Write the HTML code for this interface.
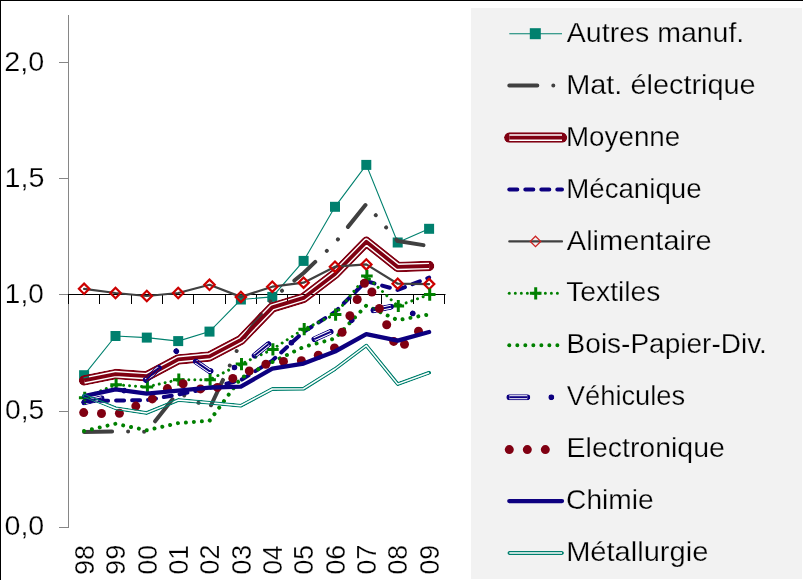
<!DOCTYPE html>
<html><head><meta charset="utf-8"><style>
html,body{margin:0;padding:0;background:#fff;}
body{width:803px;height:580px;overflow:hidden;position:relative;}
svg{display:block;position:absolute;left:0;top:0;will-change:transform;}
text{font-family:"Liberation Sans", sans-serif;font-size:27.5px;fill:#000;}
text{stroke:#fff;stroke-width:0.25px;}
.lg text{stroke:#f2f2f2;}
</style></head><body>
<svg width="803" height="580" viewBox="0 0 803 580">
<rect x="0" y="0" width="803" height="580" fill="#fff"/>
<rect x="471" y="8" width="331" height="571" fill="#f2f2f2"/>
<polyline points="509.3,33.7 562.0,33.7" fill="none" stroke="#00806e" stroke-width="1.1"/>
<rect x="529.8" y="28.2" width="11" height="11" fill="#00806e"/>
<polyline points="509.3,85.6 562.0,85.6" fill="none" stroke="#404040" stroke-width="4" stroke-linecap="round" stroke-linejoin="round" stroke-dasharray="28 16 0.01 16 0.01 16"/>
<polyline points="509.3,137.6 562.0,137.6" fill="none" stroke="#fff" stroke-width="9.5" stroke-linecap="butt"/>
<mask id="m4" maskUnits="userSpaceOnUse" x="0" y="0" width="803" height="580"><polyline points="509.3,137.6 562.0,137.6" fill="none" stroke="#fff" stroke-width="10.5" stroke-linecap="round" stroke-linejoin="round" stroke-miterlimit="10"/><polyline points="509.3,137.6 562.0,137.6" fill="none" stroke="#000" stroke-width="6.6" stroke-linecap="butt" stroke-linejoin="round" stroke-miterlimit="10"/><polyline points="509.3,137.6 562.0,137.6" fill="none" stroke="#fff" stroke-width="3.8" stroke-linecap="butt" stroke-linejoin="round" stroke-miterlimit="10"/></mask>
<polyline points="509.3,137.6 562.0,137.6" fill="none" stroke="#800012" stroke-width="10.5" stroke-linecap="round" stroke-linejoin="round" stroke-miterlimit="10" mask="url(#m4)"/>
<polyline points="509.3,189.5 562.0,189.5" fill="none" stroke="#0d0080" stroke-width="4" stroke-linecap="round" stroke-linejoin="round" stroke-dasharray="8 8"/>
<polyline points="509.3,241.4 562.0,241.4" fill="none" stroke="#404040" stroke-width="2.2" stroke-linejoin="round" stroke-linecap="round"/>
<path d="M535.5 236.2L540.7 241.4L535.5 246.6L530.3 241.4Z" fill="none" stroke="#cc2222" stroke-width="1.3"/>
<polyline points="509.3,293.3 562.0,293.3" fill="none" stroke="#008000" stroke-width="3" stroke-linecap="round" stroke-linejoin="round" stroke-dasharray="0.01 6"/>
<path d="M529.9 293.3H541.5M535.7 287.2V299.4" stroke="#008000" stroke-width="3" fill="none"/>
<polyline points="509.3,345.3 562.0,345.3" fill="none" stroke="#008000" stroke-width="4" stroke-linecap="round" stroke-linejoin="round" stroke-dasharray="0.01 8"/>
<polyline points="509.3,397.2 562.0,397.2" fill="none" stroke="#fff" stroke-width="5" stroke-linecap="butt" stroke-dasharray="18 48"/>
<mask id="m5" maskUnits="userSpaceOnUse" x="0" y="0" width="803" height="580"><polyline points="509.3,397.2 562.0,397.2" fill="none" stroke="#fff" stroke-width="6" stroke-linecap="round" stroke-linejoin="round" stroke-miterlimit="10" stroke-dasharray="18 24 0.01 24"/><polyline points="509.3,397.2 562.0,397.2" fill="none" stroke="#000" stroke-width="4" stroke-linecap="butt" stroke-linejoin="round" stroke-miterlimit="10" stroke-dasharray="18 48"/><polyline points="509.3,397.2 562.0,397.2" fill="none" stroke="#fff" stroke-width="2" stroke-linecap="butt" stroke-linejoin="round" stroke-miterlimit="10" stroke-dasharray="18 48"/></mask>
<polyline points="509.3,397.2 562.0,397.2" fill="none" stroke="#0d0080" stroke-width="6" stroke-linecap="round" stroke-linejoin="round" stroke-miterlimit="10" stroke-dasharray="18 24 0.01 24" mask="url(#m5)"/>
<polyline points="509.3,449.6 562.0,449.6" fill="none" stroke="#800012" stroke-width="9" stroke-linecap="round" stroke-linejoin="round" stroke-dasharray="0.01 18"/>
<polyline points="509.3,501.1 562.0,501.1" fill="none" stroke="#0d0080" stroke-width="4.3" stroke-linecap="round" stroke-linejoin="round"/>
<polyline points="509.3,553.0 562.0,553.0" fill="none" stroke="#fff" stroke-width="3" stroke-linecap="butt"/>
<mask id="m6" maskUnits="userSpaceOnUse" x="0" y="0" width="803" height="580"><polyline points="509.3,553.0 562.0,553.0" fill="none" stroke="#fff" stroke-width="4" stroke-linecap="round" stroke-linejoin="round" stroke-miterlimit="10"/><polyline points="509.3,553.0 562.0,553.0" fill="none" stroke="#000" stroke-width="1.5" stroke-linecap="butt" stroke-linejoin="round" stroke-miterlimit="10"/></mask>
<polyline points="509.3,553.0 562.0,553.0" fill="none" stroke="#00806e" stroke-width="4" stroke-linecap="round" stroke-linejoin="round" stroke-miterlimit="10" mask="url(#m6)"/>
<line x1="68.5" y1="15" x2="68.5" y2="528" stroke="#868686" stroke-width="1"/>
<line x1="59" y1="62.5" x2="68.5" y2="62.5" stroke="#868686" stroke-width="1"/>
<line x1="59" y1="178.5" x2="68.5" y2="178.5" stroke="#868686" stroke-width="1"/>
<line x1="59" y1="294.5" x2="68.5" y2="294.5" stroke="#868686" stroke-width="1"/>
<line x1="59" y1="411.5" x2="68.5" y2="411.5" stroke="#868686" stroke-width="1"/>
<line x1="59" y1="527.5" x2="68.5" y2="527.5" stroke="#868686" stroke-width="1"/>
<line x1="68" y1="294.5" x2="445.5" y2="294.5" stroke="#000" stroke-width="1"/>
<line x1="68.5" y1="294.5" x2="68.5" y2="304.0" stroke="#000" stroke-width="1"/>
<line x1="99.5" y1="294.5" x2="99.5" y2="304.0" stroke="#000" stroke-width="1"/>
<line x1="131.5" y1="294.5" x2="131.5" y2="304.0" stroke="#000" stroke-width="1"/>
<line x1="162.5" y1="294.5" x2="162.5" y2="304.0" stroke="#000" stroke-width="1"/>
<line x1="193.5" y1="294.5" x2="193.5" y2="304.0" stroke="#000" stroke-width="1"/>
<line x1="225.5" y1="294.5" x2="225.5" y2="304.0" stroke="#000" stroke-width="1"/>
<line x1="256.5" y1="294.5" x2="256.5" y2="304.0" stroke="#000" stroke-width="1"/>
<line x1="287.5" y1="294.5" x2="287.5" y2="304.0" stroke="#000" stroke-width="1"/>
<line x1="319.5" y1="294.5" x2="319.5" y2="304.0" stroke="#000" stroke-width="1"/>
<line x1="350.5" y1="294.5" x2="350.5" y2="304.0" stroke="#000" stroke-width="1"/>
<line x1="381.5" y1="294.5" x2="381.5" y2="304.0" stroke="#000" stroke-width="1"/>
<line x1="413.5" y1="294.5" x2="413.5" y2="304.0" stroke="#000" stroke-width="1"/>
<line x1="444.5" y1="294.5" x2="444.5" y2="304.0" stroke="#000" stroke-width="1"/>
<polyline points="84.1,375.2 115.5,336.0 146.8,337.6 178.2,341.1 209.5,331.6 240.9,299.5 272.3,296.9 303.6,260.9 335.0,206.8 366.3,164.9 397.7,242.5 429.1,228.8" fill="none" stroke="#00806e" stroke-width="1.1"/>
<rect x="79.1" y="370.2" width="10" height="10" fill="#00806e"/>
<rect x="110.5" y="331.0" width="10" height="10" fill="#00806e"/>
<rect x="141.8" y="332.6" width="10" height="10" fill="#00806e"/>
<rect x="173.2" y="336.1" width="10" height="10" fill="#00806e"/>
<rect x="204.5" y="326.6" width="10" height="10" fill="#00806e"/>
<rect x="235.9" y="294.5" width="10" height="10" fill="#00806e"/>
<rect x="267.3" y="291.9" width="10" height="10" fill="#00806e"/>
<rect x="298.6" y="255.9" width="10" height="10" fill="#00806e"/>
<rect x="330.0" y="201.8" width="10" height="10" fill="#00806e"/>
<rect x="361.3" y="159.9" width="10" height="10" fill="#00806e"/>
<rect x="392.7" y="237.5" width="10" height="10" fill="#00806e"/>
<rect x="424.1" y="223.8" width="10" height="10" fill="#00806e"/>
<polyline points="84.1,431.9 115.5,431.5 146.8,431.7 178.2,392.2 209.5,408.5 240.9,342.0 272.3,298.6 303.6,273.0 335.0,243.0 366.3,204.0 397.7,241.1 429.1,246.0" fill="none" stroke="#404040" stroke-width="4" stroke-linecap="round" stroke-linejoin="round" stroke-dasharray="28 16 0.01 16 0.01 16"/>
<mask id="m1" maskUnits="userSpaceOnUse" x="0" y="0" width="803" height="580"><polyline points="84.1,380.4 115.5,374.1 146.8,376.2 178.2,359.4 209.5,356.4 240.9,339.9 272.3,307.4 303.6,297.9 335.0,273.9 366.3,241.8 397.7,266.9 429.1,266.0" fill="none" stroke="#fff" stroke-width="10.5" stroke-linecap="round" stroke-linejoin="round" stroke-miterlimit="10"/><polyline points="84.1,380.4 115.5,374.1 146.8,376.2 178.2,359.4 209.5,356.4 240.9,339.9 272.3,307.4 303.6,297.9 335.0,273.9 366.3,241.8 397.7,266.9 429.1,266.0" fill="none" stroke="#000" stroke-width="6.6" stroke-linecap="butt" stroke-linejoin="round" stroke-miterlimit="10"/><polyline points="84.1,380.4 115.5,374.1 146.8,376.2 178.2,359.4 209.5,356.4 240.9,339.9 272.3,307.4 303.6,297.9 335.0,273.9 366.3,241.8 397.7,266.9 429.1,266.0" fill="none" stroke="#fff" stroke-width="3.8" stroke-linecap="butt" stroke-linejoin="round" stroke-miterlimit="10"/></mask>
<polyline points="84.1,380.4 115.5,374.1 146.8,376.2 178.2,359.4 209.5,356.4 240.9,339.9 272.3,307.4 303.6,297.9 335.0,273.9 366.3,241.8 397.7,266.9 429.1,266.0" fill="none" stroke="#800012" stroke-width="10.5" stroke-linecap="round" stroke-linejoin="round" stroke-miterlimit="10" mask="url(#m1)"/>
<polyline points="84.1,401.0 115.5,400.6 146.8,400.1 178.2,394.5 209.5,388.0 240.9,380.1 272.3,360.6 303.6,331.8 335.0,312.0 366.3,281.1 397.7,290.0 429.1,277.6" fill="none" stroke="#0d0080" stroke-width="4" stroke-linecap="round" stroke-linejoin="round" stroke-dasharray="8 8"/>
<polyline points="84.1,288.8 115.5,293.0 146.8,296.0 178.2,293.0 209.5,284.8 240.9,296.9 272.3,286.7 303.6,282.7 335.0,266.7 366.3,264.4 397.7,283.7 429.1,284.1" fill="none" stroke="#404040" stroke-width="2.2" stroke-linejoin="round" stroke-linecap="round"/>
<path d="M84.1 283.6L89.3 288.8L84.1 294.0L78.9 288.8Z" fill="none" stroke="#cc0000" stroke-width="2.2"/>
<path d="M115.5 287.8L120.7 293.0L115.5 298.2L110.3 293.0Z" fill="none" stroke="#cc0000" stroke-width="2.2"/>
<path d="M146.8 290.8L152.0 296.0L146.8 301.2L141.6 296.0Z" fill="none" stroke="#cc0000" stroke-width="2.2"/>
<path d="M178.2 287.8L183.4 293.0L178.2 298.2L173.0 293.0Z" fill="none" stroke="#cc0000" stroke-width="2.2"/>
<path d="M209.5 279.6L214.7 284.8L209.5 290.0L204.3 284.8Z" fill="none" stroke="#cc0000" stroke-width="2.2"/>
<path d="M240.9 291.7L246.1 296.9L240.9 302.1L235.7 296.9Z" fill="none" stroke="#cc0000" stroke-width="2.2"/>
<path d="M272.3 281.5L277.5 286.7L272.3 291.9L267.1 286.7Z" fill="none" stroke="#cc0000" stroke-width="2.2"/>
<path d="M303.6 277.5L308.8 282.7L303.6 287.9L298.4 282.7Z" fill="none" stroke="#cc0000" stroke-width="2.2"/>
<path d="M335.0 261.5L340.2 266.7L335.0 271.9L329.8 266.7Z" fill="none" stroke="#cc0000" stroke-width="2.2"/>
<path d="M366.3 259.2L371.5 264.4L366.3 269.6L361.1 264.4Z" fill="none" stroke="#cc0000" stroke-width="2.2"/>
<path d="M397.7 278.5L402.9 283.7L397.7 288.9L392.5 283.7Z" fill="none" stroke="#cc0000" stroke-width="2.2"/>
<path d="M429.1 278.9L434.3 284.1L429.1 289.3L423.9 284.1Z" fill="none" stroke="#cc0000" stroke-width="2.2"/>
<polyline points="84.1,397.8 115.5,384.8 146.8,386.9 178.2,379.7 209.5,379.7 240.9,364.1 272.3,349.4 303.6,329.2 335.0,314.6 366.3,276.0 397.7,306.0 429.1,294.6" fill="none" stroke="#008000" stroke-width="3" stroke-linecap="round" stroke-linejoin="round" stroke-dasharray="0.01 6"/>
<path d="M78.9 397.8H90.5M84.7 391.7V403.9" stroke="#008000" stroke-width="3" fill="none"/>
<path d="M110.3 384.8H121.9M116.1 378.7V390.9" stroke="#008000" stroke-width="3" fill="none"/>
<path d="M141.6 386.9H153.2M147.4 380.8V393.0" stroke="#008000" stroke-width="3" fill="none"/>
<path d="M173.0 379.7H184.6M178.8 373.6V385.8" stroke="#008000" stroke-width="3" fill="none"/>
<path d="M204.3 379.7H215.9M210.1 373.6V385.8" stroke="#008000" stroke-width="3" fill="none"/>
<path d="M235.7 364.1H247.3M241.5 358.0V370.2" stroke="#008000" stroke-width="3" fill="none"/>
<path d="M267.1 349.4H278.7M272.9 343.3V355.5" stroke="#008000" stroke-width="3" fill="none"/>
<path d="M298.4 329.2H310.0M304.2 323.1V335.3" stroke="#008000" stroke-width="3" fill="none"/>
<path d="M329.8 314.6H341.4M335.6 308.5V320.7" stroke="#008000" stroke-width="3" fill="none"/>
<path d="M361.1 276.0H372.7M366.9 269.9V282.1" stroke="#008000" stroke-width="3" fill="none"/>
<path d="M392.5 306.0H404.1M398.3 299.9V312.1" stroke="#008000" stroke-width="3" fill="none"/>
<path d="M423.9 294.6H435.5M429.7 288.5V300.7" stroke="#008000" stroke-width="3" fill="none"/>
<polyline points="84.1,431.0 115.5,423.8 146.8,430.3 178.2,423.1 209.5,420.8 240.9,378.0 272.3,362.0 303.6,346.9 335.0,338.5 366.3,305.5 397.7,320.2 429.1,314.4" fill="none" stroke="#008000" stroke-width="4" stroke-linecap="round" stroke-linejoin="round" stroke-dasharray="0.01 8"/>
<mask id="m2" maskUnits="userSpaceOnUse" x="0" y="0" width="803" height="580"><polyline points="84.1,402.4 115.5,395.0 146.8,379.4 178.2,349.4 209.5,371.1 240.9,366.6 272.3,341.1 303.6,343.9 335.0,329.9 366.3,311.8 397.7,305.3 429.1,322.3" fill="none" stroke="#fff" stroke-width="6" stroke-linecap="round" stroke-linejoin="round" stroke-miterlimit="10" stroke-dasharray="18 24 0.01 24"/><polyline points="84.1,402.4 115.5,395.0 146.8,379.4 178.2,349.4 209.5,371.1 240.9,366.6 272.3,341.1 303.6,343.9 335.0,329.9 366.3,311.8 397.7,305.3 429.1,322.3" fill="none" stroke="#000" stroke-width="4" stroke-linecap="butt" stroke-linejoin="round" stroke-miterlimit="10" stroke-dasharray="18 48"/><polyline points="84.1,402.4 115.5,395.0 146.8,379.4 178.2,349.4 209.5,371.1 240.9,366.6 272.3,341.1 303.6,343.9 335.0,329.9 366.3,311.8 397.7,305.3 429.1,322.3" fill="none" stroke="#fff" stroke-width="2" stroke-linecap="butt" stroke-linejoin="round" stroke-miterlimit="10" stroke-dasharray="18 48"/></mask>
<polyline points="84.1,402.4 115.5,395.0 146.8,379.4 178.2,349.4 209.5,371.1 240.9,366.6 272.3,341.1 303.6,343.9 335.0,329.9 366.3,311.8 397.7,305.3 429.1,322.3" fill="none" stroke="#0d0080" stroke-width="6" stroke-linecap="round" stroke-linejoin="round" stroke-miterlimit="10" stroke-dasharray="18 24 0.01 24" mask="url(#m2)"/>
<g fill="#800012"><circle cx="83.7" cy="412.6" r="4.5"/><circle cx="101.5" cy="413.5" r="4.5"/><circle cx="119.4" cy="413.2" r="4.5"/><circle cx="135.8" cy="406.1" r="4.5"/><circle cx="152.3" cy="398.9" r="4.5"/><circle cx="167.4" cy="388.6" r="4.5"/><circle cx="183.1" cy="383.8" r="4.5"/><circle cx="200.5" cy="388.9" r="4.5"/><circle cx="217.4" cy="387.4" r="4.5"/><circle cx="232.8" cy="378.4" r="4.5"/><circle cx="249.3" cy="370.9" r="4.5"/><circle cx="265.9" cy="364.2" r="4.5"/><circle cx="283.5" cy="361.4" r="4.5"/><circle cx="301.4" cy="360.7" r="4.5"/><circle cx="318.3" cy="355.2" r="4.5"/><circle cx="334.5" cy="347.9" r="4.5"/><circle cx="342.1" cy="332.2" r="4.5"/><circle cx="349.9" cy="315.8" r="4.5"/><circle cx="357.2" cy="299.5" r="4.5"/><circle cx="364.5" cy="283.2" r="4.5"/><circle cx="371.9" cy="292.0" r="4.5"/><circle cx="379.4" cy="308.5" r="4.5"/><circle cx="386.7" cy="324.7" r="4.5"/><circle cx="393.7" cy="341.4" r="4.5"/><circle cx="404.5" cy="344.2" r="4.5"/><circle cx="418.5" cy="331.3" r="4.5"/></g>
<polyline points="84.1,396.2 115.5,389.4 146.8,393.6 178.2,390.6 209.5,387.6 240.9,386.6 272.3,368.7 303.6,363.6 335.0,351.5 366.3,334.1 397.7,340.6 429.1,332.0" fill="none" stroke="#0d0080" stroke-width="4.3" stroke-linecap="round" stroke-linejoin="round"/>
<mask id="m3" maskUnits="userSpaceOnUse" x="0" y="0" width="803" height="580"><polyline points="84.1,395.7 115.5,408.2 146.8,412.9 178.2,400.1 209.5,402.7 240.9,405.7 272.3,389.0 303.6,388.7 335.0,369.0 366.3,345.5 397.7,384.1 429.1,372.7" fill="none" stroke="#fff" stroke-width="4" stroke-linecap="round" stroke-linejoin="round" stroke-miterlimit="10"/><polyline points="84.1,395.7 115.5,408.2 146.8,412.9 178.2,400.1 209.5,402.7 240.9,405.7 272.3,389.0 303.6,388.7 335.0,369.0 366.3,345.5 397.7,384.1 429.1,372.7" fill="none" stroke="#000" stroke-width="1.5" stroke-linecap="butt" stroke-linejoin="round" stroke-miterlimit="10"/></mask>
<polyline points="84.1,395.7 115.5,408.2 146.8,412.9 178.2,400.1 209.5,402.7 240.9,405.7 272.3,389.0 303.6,388.7 335.0,369.0 366.3,345.5 397.7,384.1 429.1,372.7" fill="none" stroke="#00806e" stroke-width="4" stroke-linecap="round" stroke-linejoin="round" stroke-miterlimit="10" mask="url(#m3)"/>
<text x="4.20" y="71.00" textLength="39.96" lengthAdjust="spacingAndGlyphs">2,0</text>
<text x="4.49" y="186.90" textLength="39.83" lengthAdjust="spacingAndGlyphs">1,5</text>
<text x="4.89" y="302.70" textLength="38.84" lengthAdjust="spacingAndGlyphs">1,0</text>
<text x="4.95" y="418.50" textLength="39.26" lengthAdjust="spacingAndGlyphs">0,5</text>
<text x="4.53" y="535.00" textLength="39.71" lengthAdjust="spacingAndGlyphs">0,0</text>
<text x="-0.96" y="0.00" textLength="30.12" lengthAdjust="spacingAndGlyphs" transform="translate(93.80 574.00) rotate(-90)">98</text>
<text x="-0.97" y="0.00" textLength="30.21" lengthAdjust="spacingAndGlyphs" transform="translate(125.16 574.00) rotate(-90)">99</text>
<text x="-0.50" y="0.00" textLength="29.52" lengthAdjust="spacingAndGlyphs" transform="translate(156.52 574.00) rotate(-90)">00</text>
<text x="-0.50" y="0.00" textLength="29.74" lengthAdjust="spacingAndGlyphs" transform="translate(187.88 574.00) rotate(-90)">01</text>
<text x="-0.50" y="0.00" textLength="29.77" lengthAdjust="spacingAndGlyphs" transform="translate(219.24 574.00) rotate(-90)">02</text>
<text x="-0.50" y="0.00" textLength="29.67" lengthAdjust="spacingAndGlyphs" transform="translate(250.60 574.00) rotate(-90)">03</text>
<text x="-0.48" y="0.00" textLength="28.98" lengthAdjust="spacingAndGlyphs" transform="translate(281.96 574.00) rotate(-90)">04</text>
<text x="-0.50" y="0.00" textLength="29.61" lengthAdjust="spacingAndGlyphs" transform="translate(313.32 574.00) rotate(-90)">05</text>
<text x="-0.50" y="0.00" textLength="29.67" lengthAdjust="spacingAndGlyphs" transform="translate(344.68 574.00) rotate(-90)">06</text>
<text x="-0.50" y="0.00" textLength="29.77" lengthAdjust="spacingAndGlyphs" transform="translate(376.04 574.00) rotate(-90)">07</text>
<text x="-0.50" y="0.00" textLength="29.64" lengthAdjust="spacingAndGlyphs" transform="translate(407.40 574.00) rotate(-90)">08</text>
<text x="-0.50" y="0.00" textLength="29.73" lengthAdjust="spacingAndGlyphs" transform="translate(438.76 574.00) rotate(-90)">09</text>
<g class="lg"><text x="566.87" y="41.90" textLength="177.43" lengthAdjust="spacingAndGlyphs">Autres manuf.</text>
<text x="566.16" y="93.80" textLength="189.55" lengthAdjust="spacingAndGlyphs">Mat. électrique</text>
<text x="565.96" y="145.70" textLength="114.29" lengthAdjust="spacingAndGlyphs">Moyenne</text>
<text x="566.27" y="197.60" textLength="135.27" lengthAdjust="spacingAndGlyphs">Mécanique</text>
<text x="566.87" y="249.50" textLength="144.84" lengthAdjust="spacingAndGlyphs">Alimentaire</text>
<text x="566.22" y="301.40" textLength="94.24" lengthAdjust="spacingAndGlyphs">Textiles</text>
<text x="566.64" y="353.30" textLength="200.27" lengthAdjust="spacingAndGlyphs">Bois-Papier-Div.</text>
<text x="566.82" y="405.20" textLength="118.39" lengthAdjust="spacingAndGlyphs">Véhicules</text>
<text x="566.60" y="457.10" textLength="158.27" lengthAdjust="spacingAndGlyphs">Electronique</text>
<text x="566.12" y="509.00" textLength="87.57" lengthAdjust="spacingAndGlyphs">Chimie</text>
<text x="566.15" y="560.90" textLength="142.21" lengthAdjust="spacingAndGlyphs">Métallurgie</text></g>
<rect x="0" y="0" width="803" height="1" fill="#000"/>
<rect x="0" y="0" width="1" height="580" fill="#000"/>
</svg>
</body></html>
